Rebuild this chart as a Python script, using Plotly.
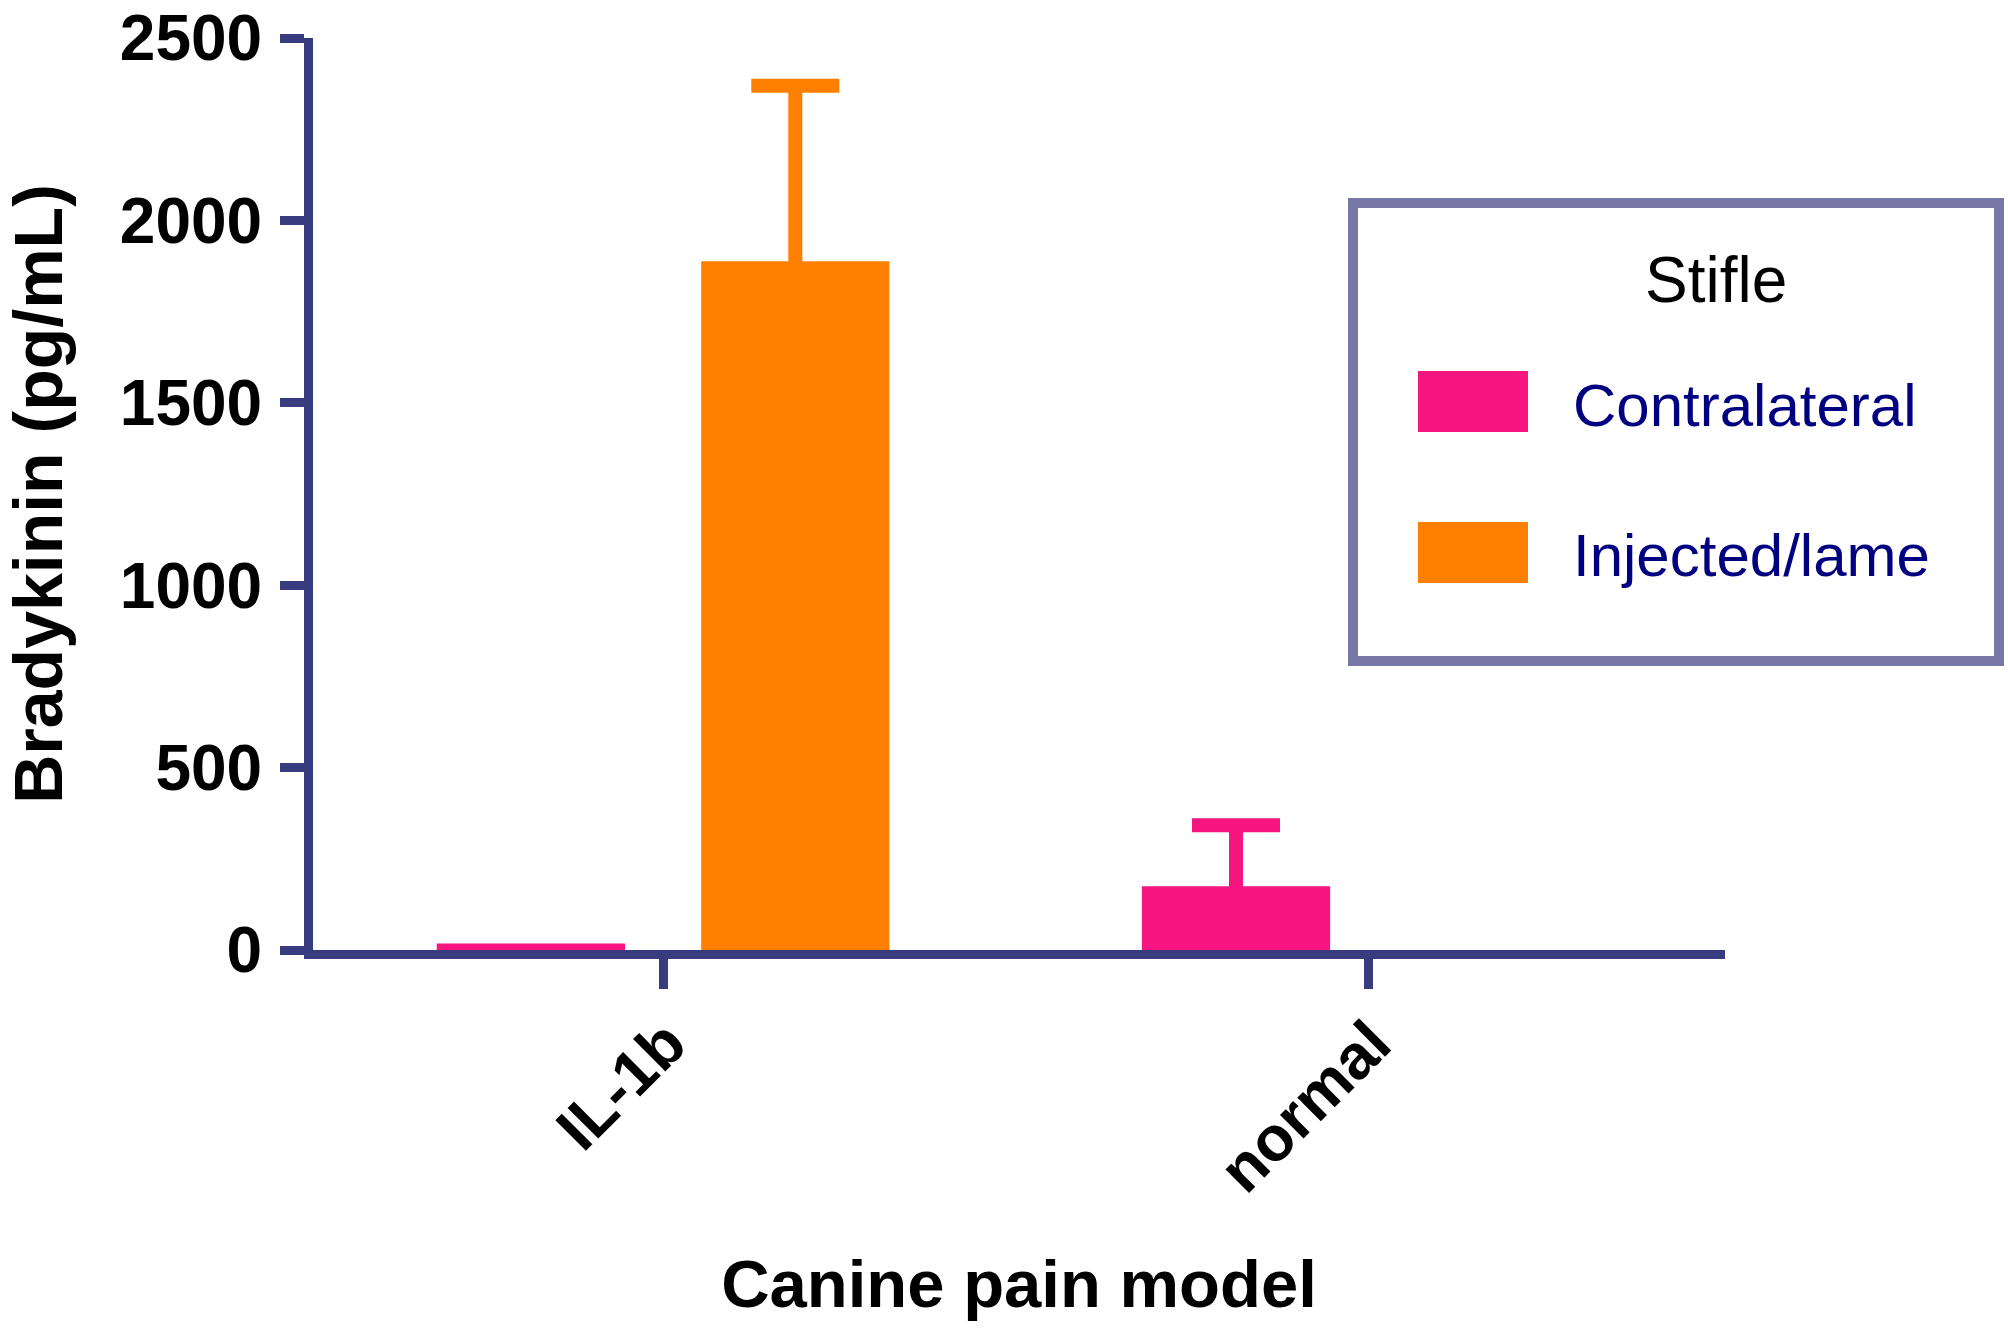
import plotly.graph_objects as go

# ---------------- data ----------------
categories = ["IL-1b", "normal"]
series_names = ["Contralateral", "Injected/lame"]
contralateral_mean = [18, 175]
contralateral_err = [None, 167]
injected_mean = [1888, None]
injected_err = [481, None]
y_ticks = [0, 500, 1000, 1500, 2000, 2500]

means = [contralateral_mean, injected_mean]
errs = [contralateral_err, injected_err]
colors = ["#F7157F", "#FF8000"]

AXIS_COLOR = "#383C7E"
FONT = "Liberation Sans, Arial, sans-serif"

W, H = 2008, 1333
L, T = 313, 38
R, B = W - 1725, H - 950

fig = go.Figure()
for s, name in enumerate(series_names):
    for i, cat in enumerate(categories):
        m = means[s][i]
        if m is None:
            continue
        e = errs[s][i]
        kw = {}
        if e is not None:
            kw["error_y"] = dict(type="data", symmetric=False, array=[e], arrayminus=[m],
                                 color=colors[s], thickness=14, width=44)
        fig.add_trace(go.Bar(x=[cat], y=[m], name=name, offsetgroup=name,
                             marker=dict(color=colors[s], line=dict(width=0)),
                             showlegend=False, **kw))

fig.update_layout(
    width=W, height=H,
    margin=dict(l=L, r=R, t=T, b=B, pad=0, autoexpand=False),
    paper_bgcolor="white", plot_bgcolor="white",
    barmode="group", bargap=0.25, bargroupgap=0.288,
    font=dict(family=FONT, color="black"),
    showlegend=False,
)
fig.update_xaxes(
    type="category", categoryorder="array", categoryarray=categories,
    range=[-0.4965, 1.506], automargin=False,
    showgrid=False, zeroline=False,
    showline=True, linecolor=AXIS_COLOR, linewidth=9,
    ticks="outside", ticklen=30, tickwidth=9, tickcolor=AXIS_COLOR,
    tickangle=-45, ticklabelstandoff=-8, ticklabelshift=4,
    ticklabeloverflow="allow",
    tickfont=dict(family=FONT, size=63, color="black", weight="bold"),
    title=dict(text="Canine pain model", standoff=60,
               font=dict(family=FONT, size=67, color="black", weight="bold")),
)
fig.update_yaxes(
    range=[0, 2500], tickvals=y_ticks, automargin=False,
    showgrid=False, zeroline=False,
    showline=True, linecolor=AXIS_COLOR, linewidth=9,
    ticks="outside", ticklen=24, tickwidth=9, tickcolor=AXIS_COLOR,
    ticklabelstandoff=5, ticklabeloverflow="allow",
    tickfont=dict(family=FONT, size=64, color="black", weight="bold"),
    title=dict(text="Bradykinin (pg/mL)", standoff=55,
               font=dict(family=FONT, size=68, color="black", weight="bold")),
)

# ---------------- custom legend (paper coords from pixel layout) ----------------
pw, ph = W - L - R, H - T - B
def px(x):
    return (x - L) / pw
def py(y):
    return (H - B - y) / ph

fig.add_shape(type="rect", xref="paper", yref="paper",
              x0=px(1353), x1=px(1999), y0=py(203), y1=py(661),
              line=dict(color="#7878A6", width=10), fillcolor="white")
fig.add_annotation(xref="paper", yref="paper", x=px(1716), y=py(280),
                   text="Stifle", showarrow=False, xanchor="center", yanchor="middle",
                   font=dict(family=FONT, size=64, color="black"))
sw_y = [(371, 432), (522, 583)]
lab_y = [405, 556]
for s, name in enumerate(series_names):
    fig.add_shape(type="rect", xref="paper", yref="paper",
                  x0=px(1418), x1=px(1528), y0=py(sw_y[s][0]), y1=py(sw_y[s][1]),
                  line=dict(width=0), fillcolor=colors[s])
    fig.add_annotation(xref="paper", yref="paper", x=px(1571), y=py(lab_y[s]),
                       text=name, showarrow=False, xanchor="left", yanchor="middle",
                       font=dict(family=FONT, size=60, color="#000080"))

# remove the default page margin so the figure fills the window exactly
fig.write_html("out.html", config={"displayModeBar": False},
               post_script="document.body.style.margin='0';")
